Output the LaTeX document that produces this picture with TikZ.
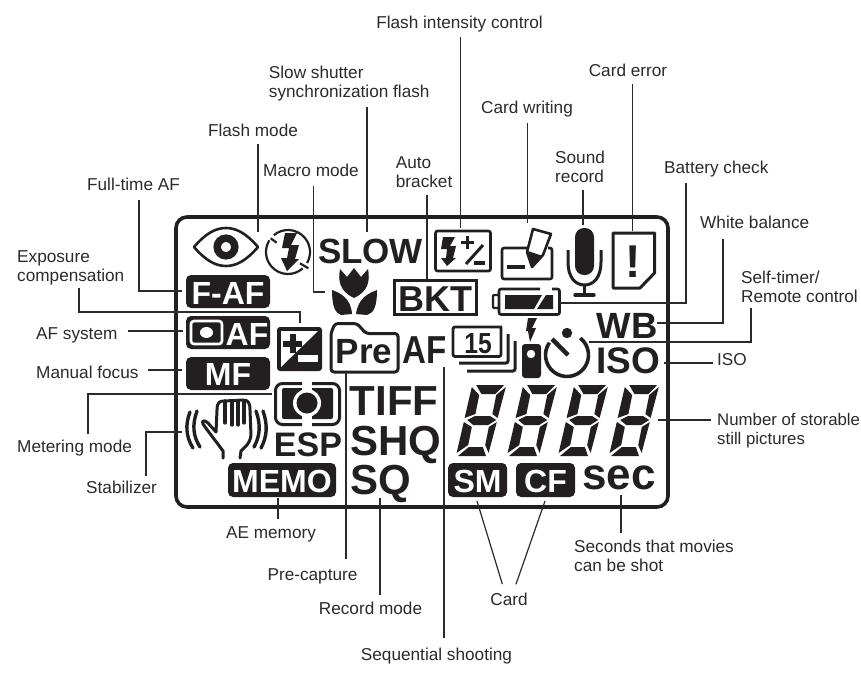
\documentclass[tikz,border=0pt]{standalone}
\usepackage{fontspec}
\setmainfont{Liberation Sans}
\definecolor{lcdk}{HTML}{231F20}
\definecolor{txt}{HTML}{2A2A2A}
\tikzset{
  lab/.style={font=\fontsize{17.2}{19}\selectfont,text=txt,inner sep=0pt,text depth=3.5pt,text height=12pt},
  labm/.style={font=\fontsize{17.2}{19}\selectfont,text=txt,inner sep=0pt,align=left},
  conn/.style={draw=txt,line width=1.2pt,line cap=butt,line join=miter},
  lcd/.style={font=\fontsize{#1}{#1}\selectfont\bfseries,text=lcdk,inner sep=0pt,anchor=base},
  lcw/.style={font=\fontsize{#1}{#1}\selectfont\bfseries,text=white,inner sep=0pt,anchor=base},
  ol/.style={draw=lcdk,line width=#1,line join=round},
  ol/.default=2.5pt
}
\newcommand{\lcddigit}[1]{%
\begin{scope}[shift={(#1,456)},yscale=-1,xslant=-.2]
\fill[lcdk] (6,71)--(34,71)--(27,62)--(13,62)--cycle;
\fill[lcdk] (2,69)--(11,61)--(11,42)--(1,38)--cycle;
\fill[lcdk] (36,69)--(28,61)--(28,42)--(34,38)--cycle;
\fill[lcdk] (4,36)--(11,40)--(26,40)--(33,36)--(26,31)--(11,31)--cycle;
\fill[lcdk] (1,34)--(10,29)--(10,11)--(0,3)--cycle;
\fill[lcdk] (34,34)--(27,29)--(27,11)--(32,3)--cycle;
\fill[lcdk] (2,0)--(30,0)--(25,9)--(11,9)--cycle;
\end{scope}}
\begin{document}
\begin{tikzpicture}[x=1pt,y=-1pt]
\useasboundingbox (0,0) rectangle (861,693);
% frame
\draw[lcdk,line width=3.6pt,rounded corners=11pt] (176,217) rectangle (668,507);
% eye
\draw[ol=2.6pt] (194,247) .. controls (206,233) and (216,228) .. (226,228) .. controls (236,228) and (246,233) .. (258,247) .. controls (246,261) and (236,266) .. (226,266) .. controls (216,266) and (206,261) .. (194,247) -- cycle;
\draw[lcdk,line width=7.5pt] (226,247) circle (8.8);
% flash ring
\draw[lcdk,line width=2.2pt] (288,252) ++(-130:22) arc (-130:30:22);
\draw[lcdk,line width=2.2pt] (288,252) ++(48:22) arc (48:212:22);
\draw[lcdk,line width=2.2pt] (270.7,238.3) -- (276.7,242.7);
\draw[lcdk,line width=2.2pt] (300,263.3) -- (308.3,268.3);
\fill[lcdk] (285,233)--(297,233)--(291,245)--(299,245)--(295,259)--(299,259)--(287,271)--(281,258)--(287,258)--(289,248)--(282,248)--cycle;
% SLOW and texts
\node[lcd=35] (tSlow) at (370.5,263) {SLOW};
\node[lcd=42] (tTiff) at (394,415) {TIFF};
\node[lcd=42] (tShq) at (396,455) {SHQ};
\node[lcd=42] (tSq) at (381,494) {SQ};
\node[lcd=34] (tEsp) at (308,456) {ESP};
\node[lcd=36.5] (tWb) at (627,338) {WB};
\node[lcd=37] (tIso) at (628,373) {ISO};
\node[lcd=39] (tAf) at (425,363) {\scalebox{.85}[1]{AF}};
\node[lcd=44] (tSec) at (619,489) {sec};
% tulip
\fill[lcdk] (340,269)--(347,277)--(354,268)--(361,277)--(368,269) .. controls (370,280) and (369,291) .. (354,298) .. controls (339,291) and (338,280) .. (340,269) -- cycle;
\fill[lcdk] (332,290) .. controls (340,293) and (351,298) .. (352,314) -- (341,315) .. controls (335,313) and (332,306) .. (332,290) -- cycle;
\fill[lcdk] (377,290) .. controls (369,293) and (358,298) .. (356,314) -- (367,315) .. controls (374,313) and (377,306) .. (377,290) -- cycle;
% F-AF
\fill[lcdk,rounded corners=5pt] (186,275) rectangle (270,308);
\node[lcw=32] (tFaf) at (228,304) {F-AF};
% O AF
\fill[lcdk,rounded corners=5pt] (186,316) rectangle (270,349);
\draw[white,line width=2.6pt,rounded corners=3pt] (191,321) rectangle (222,344);
\fill[white] (206.5,332.5) ellipse (6.5 and 5.5);
\node[lcw=32] (tOaf) at (247,345) {AF};
% MF
\fill[lcdk,rounded corners=5pt] (186,357) rectangle (270,390);
\node[lcw=32] (tMf) at (228,385) {MF};
% exposure comp
\fill[lcdk,rounded corners=3pt] (277,327) rectangle (322,371);
\fill[white] (281,331) -- (318,331) -- (281,367) -- cycle;
\fill[lcdk] (289.5,334) rectangle (295.5,353);
\fill[lcdk] (283,340.5) rectangle (302,346.5);
\fill[white] (298,355) rectangle (318,362);
% Pre folder
\draw[ol=3pt,rounded corners=3pt] (331,372) -- (331,333) -- (335,323.5) -- (357,323.5) -- (366,333.5) -- (398,333.5) -- (398,372) -- cycle;
\node[lcd=35] (tPre) at (364,363) {Pre};
% BKT
\draw[ol=3pt,line join=miter] (394.5,280.5) rectangle (476,314);
\node[lcd=36] (tBkt) at (435.5,311) {BKT};
% Flash +/-
\draw[ol=2.6pt,rounded corners=2pt] (435.5,231) rectangle (490.5,271);
\fill[lcdk] (443,237)--(455,237)--(450,246)--(456,246)--(453,258)--(456,258)--(447,266)--(441,258)--(446,258)--(447,249)--(441,249)--cycle;
\fill[lcdk] (466,236) rectangle (469,249);
\fill[lcdk] (461,241) rectangle (474,244);
\draw[lcdk,line width=3pt] (466,264) -- (483,245);
\fill[lcdk] (474,261) rectangle (485,265);
% card writing
\draw[ol=2.6pt,rounded corners=2pt] (527,248) -- (502,248) -- (502,279) -- (552,279) -- (552,248) -- (548,248);
\fill[lcdk] (507,264.5) rectangle (525,268.5);
\draw[ol=2.6pt,fill=white] (533,229) -- (551,234) -- (543,255) -- (532,267) -- (527,252) -- cycle;
\fill[lcdk] (528,251) -- (543,256) -- (532,268) -- cycle;
% mic
\fill[lcdk,rounded corners=9pt] (575,228) rectangle (594,275);
\draw[lcdk,line width=3pt] (568,250) -- (568,262) .. controls (568,277) and (575,285) .. (584.5,285) .. controls (594,285) and (601,277) .. (601,262) -- (601,250);
\draw[lcdk,line width=3pt] (584.5,285) -- (584.5,295);
\draw[lcdk,line width=3.4pt,line cap=round] (575,295) -- (594,295);
% card error
\draw[ol=3pt] (613,233) -- (654.5,233) -- (654.5,273) -- (640,288) -- (613,288) -- cycle;
\node[lcd=46] (tExc) at (633,277) {!};
% battery
\draw[ol=2.6pt,rounded corners=2pt] (540,289) -- (499,289) -- (499,314.5) -- (559.5,314.5) -- (559.5,289) -- (552,289);
\draw[ol=2.4pt,rounded corners=1pt] (498,295) -- (493,295) -- (493,308) -- (498,308);
\fill[lcdk] (505,295) -- (542,295) -- (534,309) -- (505,309) -- cycle;
\fill[lcdk] (546,295) -- (553,295) -- (553,309) -- (537,309) -- cycle;
% 15 stack
\draw[ol=2.8pt,rounded corners=2pt] (502,327) -- (453,327) -- (453,356.5) -- (501,356.5) -- (501,327);
\node[lcd=29] (t15) at (478,353) {\scalebox{.85}[1]{15}};
\draw[ol=3pt,rounded corners=2pt] (459,363) -- (508,363) -- (508,334);
\draw[ol=3pt,rounded corners=2pt] (467,371) -- (515,371) -- (515,341);
% small bolt + remote
\fill[lcdk] (528,318)--(537,318)--(532,328)--(536,328)--(530,342)--(528,331)--(526,331)--cycle;
\fill[lcdk,rounded corners=3pt] (522,344) rectangle (541,378);
\fill[white] (531,354) circle (4.2);
% self timer
\draw[lcdk,line width=3.6pt] (567,355) ++(-52:21.5) arc (-52:215:21.5);
\fill[lcdk] (567,333) circle (5.2);
\draw[lcdk,line width=4.4pt] (552,339) -- (568,355);
% digits
\lcddigit{456}\lcddigit{507}\lcddigit{558}\lcddigit{609}
% metering
\draw[ol=3pt,rounded corners=7pt] (302,383.5) -- (275.5,383.5) -- (275.5,424.5) -- (302,424.5);
\draw[ol=3pt,rounded corners=7pt] (312,383.5) -- (339.5,383.5) -- (339.5,424.5) -- (312,424.5);
\fill[lcdk,rounded corners=2pt] (282,388) rectangle (333,419);
\fill[white] (302,386) rectangle (312,421);
\fill[white] (307,403) circle (14);
\fill[lcdk] (307,403) circle (10.5);
% hand
\begin{scope}[lcdk,line width=3pt,line cap=round,line join=round]
\draw (223,458) -- (223,451) .. controls (215,440) and (207,430) .. (203,424) .. controls (201,420) and (205,420) .. (208,423) -- (216,432) -- (217,410) .. controls (217,402) and (220,401) .. (224,401) -- (243,400) .. controls (249,400) and (250,404) .. (250,410) -- (251,435) .. controls (250,445) and (243,448) .. (241,451) -- (240,458);
\draw[line width=3.2pt] (225,401) -- (225,423);
\draw[line width=3.2pt] (232,401) -- (232,425);
\draw[line width=3.2pt] (238,401) -- (238,425);
\draw[line width=3.2pt] (244,401) -- (244,423);
\draw[line width=3.4pt] (190,412) .. controls (185,425) and (186,437) .. (193,448);
\draw[line width=3.4pt] (197,411) .. controls (192,425) and (193,436) .. (200,447);
\draw[line width=3.4pt] (256,411) .. controls (261,425) and (260,436) .. (254,447);
\draw[line width=3.4pt] (263,411) .. controls (268,425) and (267,437) .. (261,448);
\end{scope}
% MEMO SM CF
\fill[lcdk,rounded corners=5pt] (228,463) rectangle (336,497);
\node[lcw=32] (tMemo) at (282,492) {MEMO};
\fill[lcdk,rounded corners=5pt] (448,463) rectangle (507,497);
\node[lcw=32] (tSm) at (477.5,492) {SM};
\fill[lcdk,rounded corners=5pt] (516,463) rectangle (575,497);
\node[lcw=32] (tCf) at (545.5,492) {CF};
% labels
\node[lab,anchor=base] (lFI) at (459.5,29) {Flash intensity control};
\node[labm,anchor=west] (lSS) at (268.7,84) {Slow shutter\\synchronization flash};
\node[lab,anchor=base] (lFM) at (253,136) {Flash mode};
\node[lab,anchor=base] (lMM) at (311,176) {Macro mode};
\node[lab,anchor=base] (lFT) at (133.5,190) {Full-time AF};
\node[labm,anchor=west] (lAB) at (395.7,172) {Auto\\bracket};
\node[lab,anchor=base] (lCW) at (527,113) {Card writing};
\node[lab,anchor=base] (lCE) at (628,77) {Card error};
\node[labm,anchor=west] (lSR) at (555,167) {Sound\\record};
\node[lab,anchor=base west] (lBC) at (664,173) {Battery check};
\node[lab,anchor=base west] (lWB) at (700,228) {White balance};
\node[labm,anchor=west] (lST) at (741,287) {Self-timer/\\Remote control};
\node[lab,anchor=base west] (lIS) at (717,365) {ISO};
\node[labm,anchor=west,font=\fontsize{16.8}{19}\selectfont] (lNS) at (717,431) {Number of storable\\still pictures};
\node[labm,anchor=west] (lEC) at (17,268) {Exposure\\compensation};
\node[lab,anchor=base west] (lAS) at (36,339) {AF system};
\node[lab,anchor=base west] (lMF) at (36,378) {Manual focus};
\node[lab,anchor=base west] (lME) at (17,452.5) {Metering mode};
\node[lab,anchor=base west] (lSB) at (86,493) {Stabilizer};
\node[lab,anchor=base] (lAE) at (271,538) {AE memory};
\node[lab,anchor=base] (lPC) at (312.5,580) {Pre-capture};
\node[lab,anchor=base] (lRM) at (370.5,614) {Record mode};
\node[lab,anchor=base] (lSQ) at (436.5,660) {Sequential shooting};
\node[lab,anchor=base] (lCD) at (509,605) {Card};
\node[labm,anchor=west] (lSM) at (574,556) {Seconds that movies\\can be shot};
% connector ends
\coordinate (eFI) at (460.7,228);
\coordinate (eSS) at (367,232);
\coordinate (eFM) at (258,232);
\coordinate (eMMa) at (313.7,292);
\coordinate (eMMb) at (325,292);
\coordinate (eAB) at (427,279);
\coordinate (eCW) at (527.7,223);
\coordinate (eCE) at (632.7,231);
\coordinate (eSR) at (583,225);
\coordinate (eBCa) at (686,303);
\coordinate (eBCb) at (560,303);
\coordinate (eWBa) at (723,323);
\coordinate (eWBb) at (657,323);
\coordinate (eSTa) at (751,342);
\coordinate (eSTb) at (589,342);
\coordinate (eIS) at (664,363);
\coordinate (eNS) at (658,420);
\coordinate (eFTa) at (139,291);
\coordinate (eFTb) at (182,291);
\coordinate (eECa) at (79,312);
\coordinate (eECb) at (300,312);
\coordinate (eECc) at (300,323);
\coordinate (eAS) at (183,331);
\coordinate (eMF) at (182,370);
\coordinate (eMEa) at (88,394);
\coordinate (eMEb) at (272,394);
\coordinate (eSBa) at (146,432);
\coordinate (eSBb) at (182,432);
\coordinate (eAE) at (278,498);
\coordinate (ePC) at (346,372);
\coordinate (eRM) at (380,498);
\coordinate (eSQ) at (444,367);
\coordinate (eCDa) at (477,501);
\coordinate (eCDb) at (545,501);
\coordinate (eSM) at (621,495);
% connectors
\draw[conn,shorten <=4.5] (lFI.south -| eFI) -- (eFI);
\draw[conn,shorten <=5.5] (lSS.south -| eSS) -- (eSS);
\draw[conn,shorten <=4.5] (lFM.south -| eFM) -- (eFM);
\draw[conn,shorten <=6.5] (lMM.south -| eMMa) -- (eMMa) -- (eMMb);
\draw[conn,shorten <=6.5] (lFT.south -| eFTa) -- (eFTa) -- (eFTb);
\draw[conn,shorten <=7] (lAB.south -| eAB) -- (eAB);
\draw[conn,shorten <=6.5] (lCW.south -| eCW) -- (eCW);
\draw[conn,shorten <=3.5] (lCE.south -| eCE) -- (eCE);
\draw[conn,shorten <=7] (lSR.south -| eSR) -- (eSR);
\draw[conn,shorten <=6.5] (lBC.south -| eBCa) -- (eBCa) -- (eBCb);
\draw[conn,shorten <=7.5] (lWB.south -| eWBa) -- (eWBa) -- (eWBb);
\draw[conn,shorten <=5] (lST.south -| eSTa) -- (eSTa) -- (eSTb);
\draw[conn,shorten <=4] (lIS.west |- eIS) -- (eIS);
\draw[conn,shorten <=6] (lNS.west |- eNS) -- (eNS);
\draw[conn,shorten <=2.5] (lEC.south -| eECa) -- (eECa) -- (eECb) -- (eECc);
\draw[conn,shorten <=10] (lAS.east |- eAS) -- (eAS);
\draw[conn,shorten <=9] (lMF.east |- eMF) -- (eMF);
\draw[conn,shorten <=6] (lME.north -| eMEa) -- (eMEa) -- (eMEb);
\draw[conn,shorten <=5] (lSB.north -| eSBa) -- (eSBa) -- (eSBb);
\draw[conn,shorten <=7] (lAE.north -| eAE) -- (eAE);
\draw[conn,shorten <=9] (lPC.north -| ePC) -- (ePC);
\draw[conn,shorten <=7] (lRM.north -| eRM) -- (eRM);
\draw[conn,shorten <=10] (lSQ.north -| eSQ) -- (eSQ);
\draw[conn,shorten <=9] ([xshift=-4pt]lCD.north) -- (eCDa);
\draw[conn,shorten <=9] ([xshift=4pt]lCD.north) -- (eCDb);
\draw[conn,shorten <=7] (lSM.north -| eSM) -- (eSM);
\end{tikzpicture}
\end{document}
